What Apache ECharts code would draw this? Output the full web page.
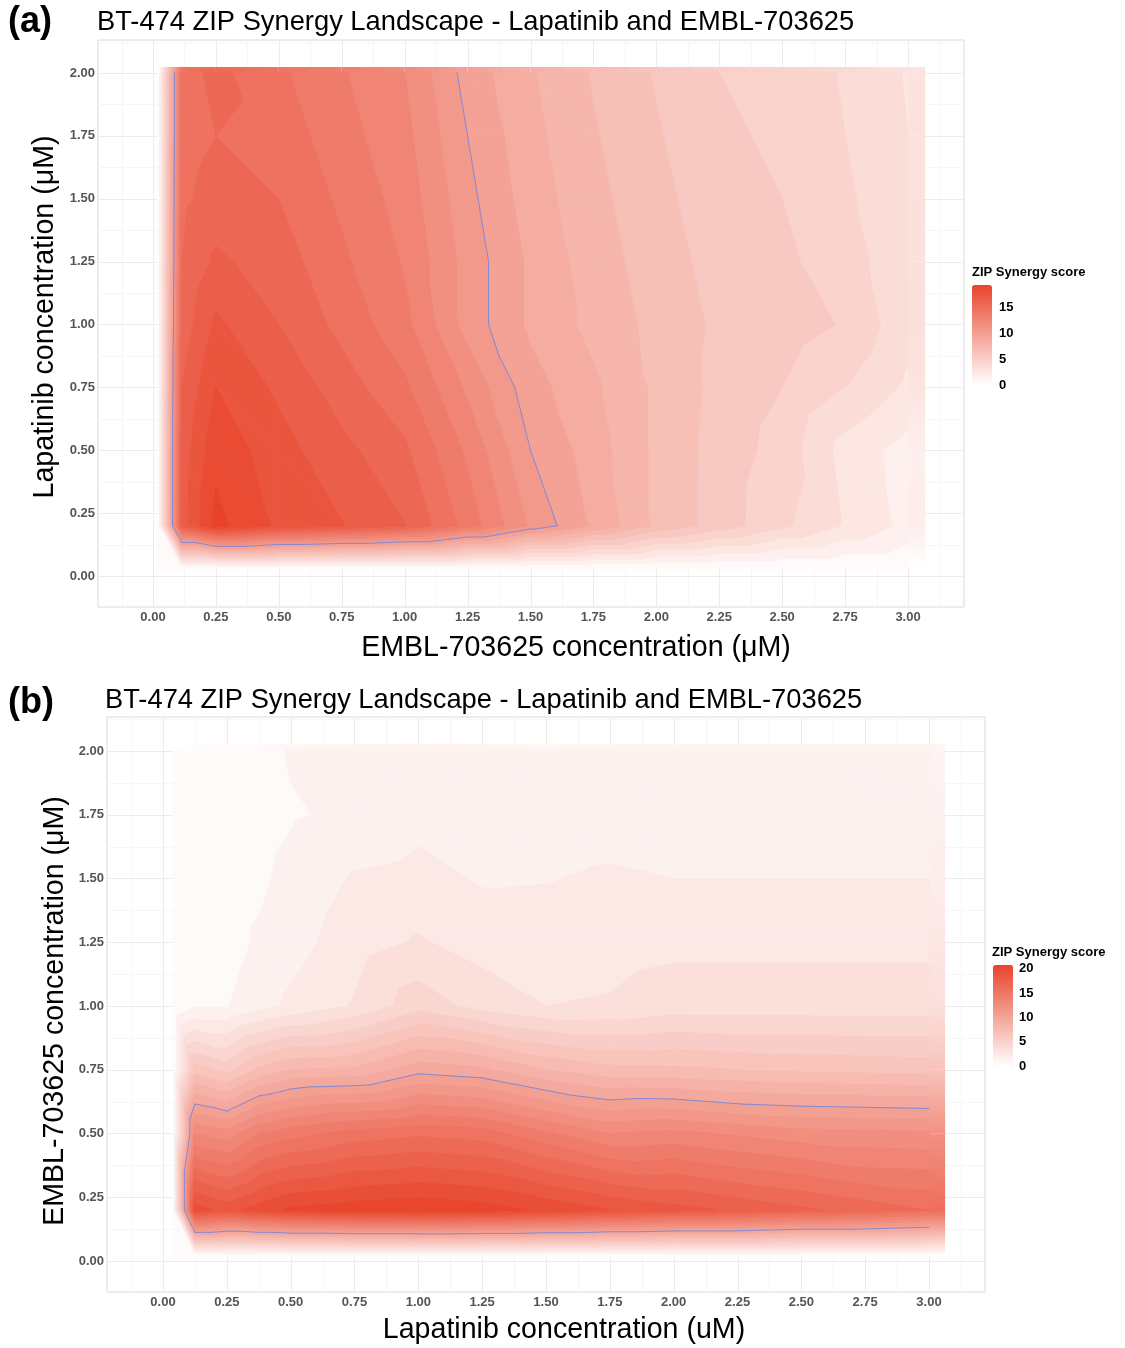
<!DOCTYPE html>
<html>
<head>
<meta charset="utf-8">
<script src="https://cdn.jsdelivr.net/npm/echarts@6/dist/echarts.min.js"></script>
<style>
  html, body { margin: 0; padding: 0; background: #ffffff; }
  #chart { width: 1125px; height: 1348px; }
</style>
</head>
<body>
<div id="chart"></div>
<script>
// ---------- Panel (a): EMBL-703625 on x, Lapatinib on y ----------
const emblDosesA = [0.02, 0.115, 0.25, 0.5, 0.75, 1.0, 1.25, 1.5, 1.75, 2.0, 2.25, 2.5, 2.75, 3.0];
const lapatinibDosesA = [0.03, 0.2, 0.5, 0.75, 1.0, 1.25, 1.5, 1.75, 2.0];
// one row per Lapatinib dose (bottom to top), one column per EMBL-703625 dose
const zipScoresA = [
  [0, 0,    0,    0,    0,     0,     0,    0,     0,    0,   0,    0,   0,   0  ],
  [0, 16.5, 19.3, 17.8, 17.05, 16.05, 13.6, 10.85, 8.85, 6.8, 5.55, 4.2, 2.9, 1.7],
  [0, 16.4, 18.7, 17.4, 16.3,  15.2,  12.8, 10.0,  8.5,  6.8, 5.6,  4.6, 2.6, 1.6],
  [0, 16.0, 18.0, 16.8, 15.5,  14.2,  11.8, 9.4,   8.2,  6.8, 5.7,  5.0, 4.0, 2.8],
  [0, 15.4, 17.2, 16.0, 14.7,  13.3,  10.6, 8.8,   7.7,  6.7, 5.8,  5.5, 4.9, 3.3],
  [0, 15.0, 16.2, 15.5, 14.2,  12.9,  10.6, 8.8,   7.5,  6.5, 5.6,  5.2, 4.5, 3.2],
  [0, 14.8, 15.4, 15.0, 13.8,  12.6,  10.3, 8.5,   7.3,  6.3, 5.4,  5.0, 4.2, 3.1],
  [0, 14.6, 15.0, 14.6, 13.4,  12.3,  10.0, 8.3,   7.1,  6.1, 5.2,  4.8, 4.0, 3.0],
  [0, 14.5, 15.3, 14.2, 13.1,  12.0,  9.6,  8.1,   6.9,  5.9, 5.0,  4.6, 3.9, 2.9]
];

// ---------- Panel (b): Lapatinib on x, EMBL-703625 on y ----------
const lapatinibDosesB = [0.04, 0.125, 0.25, 0.375, 0.5, 0.75, 1.0, 1.25, 1.5, 1.75, 2.0, 2.5, 3.0];
const emblDosesB = [0.02, 0.2, 0.5, 0.75, 1.0, 1.25, 1.5, 1.75, 2.0];
// one row per EMBL-703625 dose (bottom to top), one column per Lapatinib dose
const zipScoresB = [
  [0, 0,    0,    0,    0,    0,    0,    0,    0,    0,    0,    0,    0   ],
  [0, 19.5, 18.6, 19.5, 20.2, 20.6, 20.8, 20.5, 19.8, 19.0, 18.4, 17.2, 16.0],
  [0, 13.0, 12.4, 14.0, 14.6, 15.4, 15.8, 15.5, 14.2, 13.0, 13.3, 12.4, 12.2],
  [0, 6.5,  5.6,  7.2,  8.0,  8.2,  9.6,  9.2,  8.0,  7.3,  7.2,  6.8,  6.6 ],
  [0, 0.9,  0.95, 1.6,  2.2,  3.1,  4.6,  3.6,  3.0,  3.1,  3.5,  3.5,  3.5 ],
  [0, 0.5,  0.55, 1.15, 1.6,  2.55, 3.1,  2.6,  2.5,  2.6,  2.75, 2.75, 2.75],
  [0, 0.45, 0.5,  0.8,  1.3,  2.1,  2.3,  1.9,  1.95, 2.15, 2.0,  2.0,  2.0 ],
  [0, 0.4,  0.45, 0.6,  0.9,  1.2,  1.7,  1.5,  1.4,  1.5,  1.5,  1.5,  1.5 ],
  [0, 0.4,  0.45, 0.6,  1.1,  1.15, 1.3,  1.2,  1.1,  1.2,  1.2,  1.2,  1.2 ]
];

// ---------- ticks, legend ticks, contour settings ----------
const xTickValues = [0, 0.25, 0.5, 0.75, 1.0, 1.25, 1.5, 1.75, 2.0, 2.25, 2.5, 2.75, 3.0];
const yTickValues = [0, 0.25, 0.5, 0.75, 1.0, 1.25, 1.5, 1.75, 2.0];
const legendTicksA = [0, 5, 10, 15];
const legendTicksB = [0, 5, 10, 15, 20];
const highlightLevel = 10;   // score outlined in blue
const bandStep = 1;          // width of each filled contour band

const FONT = '"Liberation Sans", Arial, Helvetica, sans-serif';
const LOW_RGB = [255, 255, 255];
const HIGH_RGB = [232, 67, 42];
const LINE_COLOR = '#8489D3';

function scoreColor(v, max) {
  const t = Math.max(0, Math.min(1, v / max));
  const c = LOW_RGB.map((l, i) => Math.round(l + (HIGH_RGB[i] - l) * t));
  return 'rgb(' + c.join(',') + ')';
}

function maxOf(z) {
  return Math.max(...z.map(r => Math.max(...r)));
}

// cells of the dose grid: [xLeft, xRight, yBottom, yTop, v00, v10, v01, v11]
function buildCells(xs, ys, z) {
  const out = [];
  for (let j = 0; j < ys.length - 1; j++) {
    for (let i = 0; i < xs.length - 1; i++) {
      out.push([xs[i], xs[i + 1], ys[j], ys[j + 1], z[j][i], z[j][i + 1], z[j + 1][i], z[j + 1][i + 1]]);
    }
  }
  return out;
}

// half-tile strips along the top and right edges of the grid
function buildEdges(xs, ys, z, extX, extY) {
  const out = [];
  const nx = xs.length - 1, ny = ys.length - 1;
  for (let i = 0; i < nx; i++) {
    out.push([xs[i], xs[i + 1], ys[ny], ys[ny] + extY, z[ny][i], z[ny][i + 1], 0]);
  }
  for (let j = 0; j < ny; j++) {
    out.push([xs[nx], xs[nx] + extX, ys[j], ys[j + 1], z[j][nx], z[j + 1][nx], 1]);
  }
  out.push([xs[nx], xs[nx] + extX, ys[ny], ys[ny] + extY, z[ny][nx], z[ny][nx], 0]);
  return out;
}

// keep the part of a polygon where sign * (v - t) >= 0 (values vary linearly)
function clipPoly(poly, t, sign) {
  const out = [];
  const n = poly.length;
  for (let i = 0; i < n; i++) {
    const P = poly[i], Q = poly[(i + 1) % n];
    const pin = sign * (P.v - t) >= 0;
    const qin = sign * (Q.v - t) >= 0;
    if (pin) out.push(P);
    if (pin !== qin) {
      const f = (t - P.v) / (Q.v - P.v);
      out.push({ x: P.x + f * (Q.x - P.x), y: P.y + f * (Q.y - P.y), v: t });
    }
  }
  return out;
}

function polyArea(pts) {
  let a = 0;
  for (let i = 0; i < pts.length; i++) {
    const p = pts[i], q = pts[(i + 1) % pts.length];
    a += p.x * q.y - q.x * p.y;
  }
  return Math.abs(a) / 2;
}

// split a cell into two triangles along its upper-left / lower-right diagonal
function cellTriangles(api) {
  const x0 = api.value(0), x1 = api.value(1), y0 = api.value(2), y1 = api.value(3);
  const p00 = api.coord([x0, y0]), p10 = api.coord([x1, y0]);
  const p01 = api.coord([x0, y1]), p11 = api.coord([x1, y1]);
  const A = { x: p00[0], y: p00[1], v: api.value(4) };
  const B = { x: p10[0], y: p10[1], v: api.value(5) };
  const C = { x: p01[0], y: p01[1], v: api.value(6) };
  const D = { x: p11[0], y: p11[1], v: api.value(7) };
  return [[A, B, C], [B, D, C]];
}

// filled contour bands inside one grid cell
function bandRenderer(maxScore) {
  return function (params, api) {
    const children = [];
    cellTriangles(api).forEach(tri => {
      const vs = tri.map(p => p.v);
      const lo = Math.min(...vs), hi = Math.max(...vs);
      const k0 = Math.floor(lo / bandStep);
      let k1 = Math.ceil(hi / bandStep) - 1;
      if (k1 < k0) k1 = k0;
      for (let k = k0; k <= k1; k++) {
        const a = k * bandStep, b = a + bandStep;
        const poly = clipPoly(clipPoly(tri, a, 1), b, -1);
        if (poly.length < 3 || polyArea(poly) < 0.05) continue;
        const col = scoreColor(Math.min(a + bandStep / 2, maxScore), maxScore);
        children.push({
          type: 'polygon',
          shape: { points: poly.map(p => [p.x, p.y]) },
          style: { fill: col, stroke: col, lineWidth: 1, lineJoin: 'round' }
        });
      }
    });
    return { type: 'group', children };
  };
}

// iso-line of one score level inside one grid cell
function contourRenderer(level) {
  return function (params, api) {
    const children = [];
    cellTriangles(api).forEach(tri => {
      const pts = [];
      for (let e = 0; e < 3; e++) {
        const P = tri[e], Q = tri[(e + 1) % 3];
        if ((P.v >= level) !== (Q.v >= level)) {
          const f = (level - P.v) / (Q.v - P.v);
          pts.push([P.x + f * (Q.x - P.x), P.y + f * (Q.y - P.y)]);
        }
      }
      if (pts.length === 2) {
        children.push({
          type: 'line',
          shape: { x1: pts[0][0], y1: pts[0][1], x2: pts[1][0], y2: pts[1][1] },
          style: { stroke: LINE_COLOR, lineWidth: 1, lineCap: 'round' }
        });
      }
    });
    return { type: 'group', children };
  };
}

// edge strips shaded continuously between the two end scores
function edgeRenderer(maxScore) {
  return function (params, api) {
    const p0 = api.coord([api.value(0), api.value(2)]);
    const p1 = api.coord([api.value(1), api.value(3)]);
    const ca = scoreColor(api.value(4), maxScore), cb = scoreColor(api.value(5), maxScore);
    const vertical = api.value(6) === 1;
    const grad = vertical
      ? new echarts.graphic.LinearGradient(0, 1, 0, 0, [{ offset: 0, color: ca }, { offset: 1, color: cb }])
      : new echarts.graphic.LinearGradient(0, 0, 1, 0, [{ offset: 0, color: ca }, { offset: 1, color: cb }]);
    return {
      type: 'rect',
      shape: { x: p0[0], y: p1[1], width: p1[0] - p0[0], height: p0[1] - p1[1] },
      style: { fill: grad, stroke: null }
    };
  };
}

// panel grid lines: [value, isHorizontal, isMajor]
function buildGridLines(xTicks, yTicks, range) {
  const out = [];
  const minor = ticks => {
    const half = (ticks[1] - ticks[0]) / 2;
    const m = [ticks[0] - half];
    for (let i = 0; i < ticks.length - 1; i++) m.push((ticks[i] + ticks[i + 1]) / 2);
    m.push(ticks[ticks.length - 1] + half);
    return m;
  };
  minor(xTicks).filter(v => v > range.xMin && v < range.xMax).forEach(v => out.push([v, 0, 0]));
  minor(yTicks).filter(v => v > range.yMin && v < range.yMax).forEach(v => out.push([v, 1, 0]));
  xTicks.forEach(v => out.push([v, 0, 1]));
  yTicks.forEach(v => out.push([v, 1, 1]));
  return out;
}

function gridLineRenderer(params, api) {
  const v = api.value(0), horiz = api.value(1) === 1, major = api.value(2) === 1;
  const cs = params.coordSys;
  let shape;
  if (horiz) {
    const y = Math.round(api.coord([0, v])[1]) + 0.5;
    shape = { x1: cs.x, y1: y, x2: cs.x + cs.width, y2: y };
  } else {
    const x = Math.round(api.coord([v, 0])[0]) + 0.5;
    shape = { x1: x, y1: cs.y, x2: x, y2: cs.y + cs.height };
  }
  return { type: 'line', shape, style: { stroke: major ? '#ECECEC' : '#F6F6F6', lineWidth: 1 } };
}

const maxA = maxOf(zipScoresA);
const maxB = maxOf(zipScoresB);

const rangeA = { xMin: -0.2185, xMax: 3.2224, yMin: -0.1233, yMax: 2.1312 };
const rangeB = { xMin: -0.2193, xMax: 3.2193, yMin: -0.1216, yMax: 2.1333 };

function valueAxis(gridIndex, range, isX, ticks) {
  return {
    type: 'value',
    gridIndex,
    min: isX ? range.xMin : range.yMin,
    max: isX ? range.xMax : range.yMax,
    axisLine: { show: false },
    axisTick: { show: false },
    splitLine: { show: false },
    axisLabel: {
      customValues: ticks,
      formatter: v => v.toFixed(2),
      color: '#555555',
      fontSize: 13,
      fontWeight: 'bold',
      fontFamily: FONT,
      margin: isX ? 4 : 3
    }
  };
}

function seriesFor(idx, xs, ys, z, maxScore, range, extX, extY) {
  const common = { xAxisIndex: idx, yAxisIndex: idx, silent: true, animation: false };
  return [
    Object.assign({ type: 'custom', z: 1, renderItem: gridLineRenderer,
      data: buildGridLines(xTickValues, yTickValues, range) }, common),
    Object.assign({ type: 'custom', z: 2, renderItem: edgeRenderer(maxScore),
      data: buildEdges(xs, ys, z, extX, extY) }, common),
    Object.assign({ type: 'custom', z: 3, renderItem: bandRenderer(maxScore),
      data: buildCells(xs, ys, z) }, common),
    Object.assign({ type: 'custom', z: 4, renderItem: contourRenderer(highlightLevel),
      data: buildCells(xs, ys, z) }, common)
  ];
}

function text(str, x, y, size, o) {
  o = o || {};
  const el = {
    type: 'text', x, y, silent: true, z: 100,
    style: {
      text: str,
      fill: o.fill || '#000000',
      font: (o.weight || 'normal') + ' ' + size + 'px ' + FONT,
      align: o.align || 'left',
      verticalAlign: 'middle'
    }
  };
  if (o.rotation) el.rotation = o.rotation;
  return el;
}

const legendA = { left: 972, top: 285, width: 20, height: 100 };
const legendB = { left: 993, top: 965, width: 20, height: 101 };

function legendLabels(box, ticks, maxScore, labelX) {
  return ticks.map(t => text(String(t), labelX, box.top + box.height * (1 - t / maxScore), 13, { weight: 'bold' }));
}

const graphics = [
  text('(a)', 8, 22, 36, { weight: 'bold' }),
  text('BT-474 ZIP Synergy Landscape - Lapatinib and EMBL-703625', 97, 22, 27.3),
  text('EMBL-703625 concentration (\u03bcM)', 576, 648, 28.6, { align: 'center' }),
  text('Lapatinib concentration (\u03bcM)', 45, 317, 28.6, { align: 'center', rotation: Math.PI / 2 }),
  text('ZIP Synergy score', 972, 272, 13, { weight: 'bold' }),
  text('(b)', 8, 703, 36, { weight: 'bold' }),
  text('BT-474 ZIP Synergy Landscape - Lapatinib and EMBL-703625', 105, 700, 27.3),
  text('Lapatinib concentration (uM)', 564, 1330, 28.6, { align: 'center' }),
  text('EMBL-703625 concentration (\u03bcM)', 55, 1011, 28.6, { align: 'center', rotation: Math.PI / 2 }),
  text('ZIP Synergy score', 992, 952, 13, { weight: 'bold' })
].concat(legendLabels(legendA, legendTicksA, maxA, 999))
 .concat(legendLabels(legendB, legendTicksB, maxB, 1019));

const chart = echarts.init(document.getElementById('chart'), null, { renderer: 'canvas' });

chart.setOption({
  animation: false,
  backgroundColor: '#ffffff',
  textStyle: { fontFamily: FONT },
  grid: [
    { left: 98, top: 40, width: 866, height: 567, show: true, borderColor: '#DADADA', borderWidth: 1, backgroundColor: '#ffffff' },
    { left: 107, top: 717, width: 878, height: 575, show: true, borderColor: '#DADADA', borderWidth: 1, backgroundColor: '#ffffff' }
  ],
  xAxis: [valueAxis(0, rangeA, true, xTickValues), valueAxis(1, rangeB, true, xTickValues)],
  yAxis: [valueAxis(0, rangeA, false, yTickValues), valueAxis(1, rangeB, false, yTickValues)],
  visualMap: [
    {
      type: 'continuous', seriesIndex: [], min: 0, max: maxA, orient: 'vertical',
      left: legendA.left, top: legendA.top, itemWidth: legendA.width, itemHeight: legendA.height,
      calculable: false, hoverLink: false, padding: 0, text: null, showLabel: false,
      inRange: { color: ['#FFFFFF', '#E8432A'] }
    },
    {
      type: 'continuous', seriesIndex: [], min: 0, max: maxB, orient: 'vertical',
      left: legendB.left, top: legendB.top, itemWidth: legendB.width, itemHeight: legendB.height,
      calculable: false, hoverLink: false, padding: 0, text: null, showLabel: false,
      inRange: { color: ['#FFFFFF', '#E8432A'] }
    }
  ],
  series: [].concat(
    seriesFor(0, emblDosesA, lapatinibDosesA, zipScoresA, maxA, rangeA, 0.068, 0.024),
    seriesFor(1, lapatinibDosesB, emblDosesB, zipScoresB, maxB, rangeB, 0.063, 0.027)
  ),
  graphic: graphics
});
</script>
</body>
</html>
